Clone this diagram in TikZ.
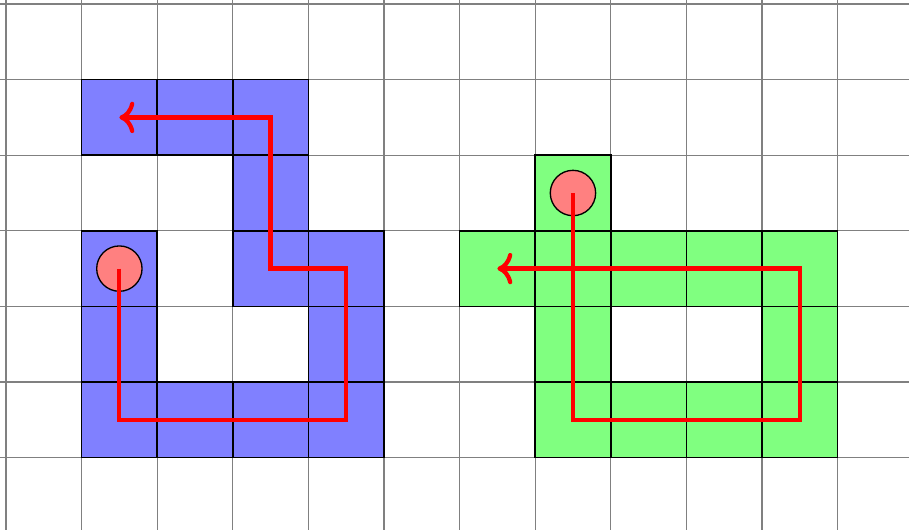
\documentclass[tikz,border=0pt]{standalone}
\usetikzlibrary{arrows.meta}
\definecolor{cellblue}{HTML}{8080FF}
\definecolor{cellgreen}{HTML}{80FF80}
\definecolor{dotred}{HTML}{FF8080}
\tikzset{
  gridline/.style={draw=gray, line width=0.45pt},
  bluecell/.style={fill=cellblue, draw=black, line width=0.6pt},
  greencell/.style={fill=cellgreen, draw=black, line width=0.6pt},
  startdot/.style={circle, fill=dotred, draw=black, line width=0.5pt, minimum size=0.6cm, inner sep=0pt},
  route/.style={draw=red, line width=1.6pt, -{To[scale=1.1]}},
}
\begin{document}
\begin{tikzpicture}[y=-1cm]
\useasboundingbox (-0.079,-0.053) rectangle (11.945,6.958);
% grid
\foreach \i in {0,...,11} \draw[gridline] (\i,-0.053) -- (\i,6.958);
\foreach \j in {0,...,6} \draw[gridline] (-0.079,\j) -- (11.945,\j);
% blue cells
\foreach \c/\r in {1/1,2/1,3/1,3/2,1/3,3/3,4/3,1/4,4/4,1/5,2/5,3/5,4/5}
  \draw[bluecell] (\c,\r) rectangle ++(1,1);
% green cells
\foreach \c/\r in {7/2,6/3,7/3,8/3,9/3,10/3,7/4,10/4,7/5,8/5,9/5,10/5}
  \draw[greencell] (\c,\r) rectangle ++(1,1);
% start dots
\node[startdot] (s1) at (1.5,3.5) {};
\node[startdot] (s2) at (7.5,2.5) {};
% blue route
\coordinate (b1) at (1.5,5.5);
\coordinate (b2) at (4.5,5.5);
\coordinate (b3) at (4.5,3.5);
\coordinate (b4) at (3.5,3.5);
\coordinate (b5) at (3.5,1.5);
\coordinate (b6) at (1.5,1.5);
\draw[route] (s1.center) -- (b1) -- (b2) -- (b3) -- (b4) -- (b5) -- (b6);
% green route
\coordinate (g1) at (7.5,5.5);
\coordinate (g2) at (10.5,5.5);
\coordinate (g3) at (10.5,3.5);
\coordinate (g4) at (6.5,3.5);
\draw[route] (s2.center) -- (g1) -- (g2) -- (g3) -- (g4);
\end{tikzpicture}
\end{document}
